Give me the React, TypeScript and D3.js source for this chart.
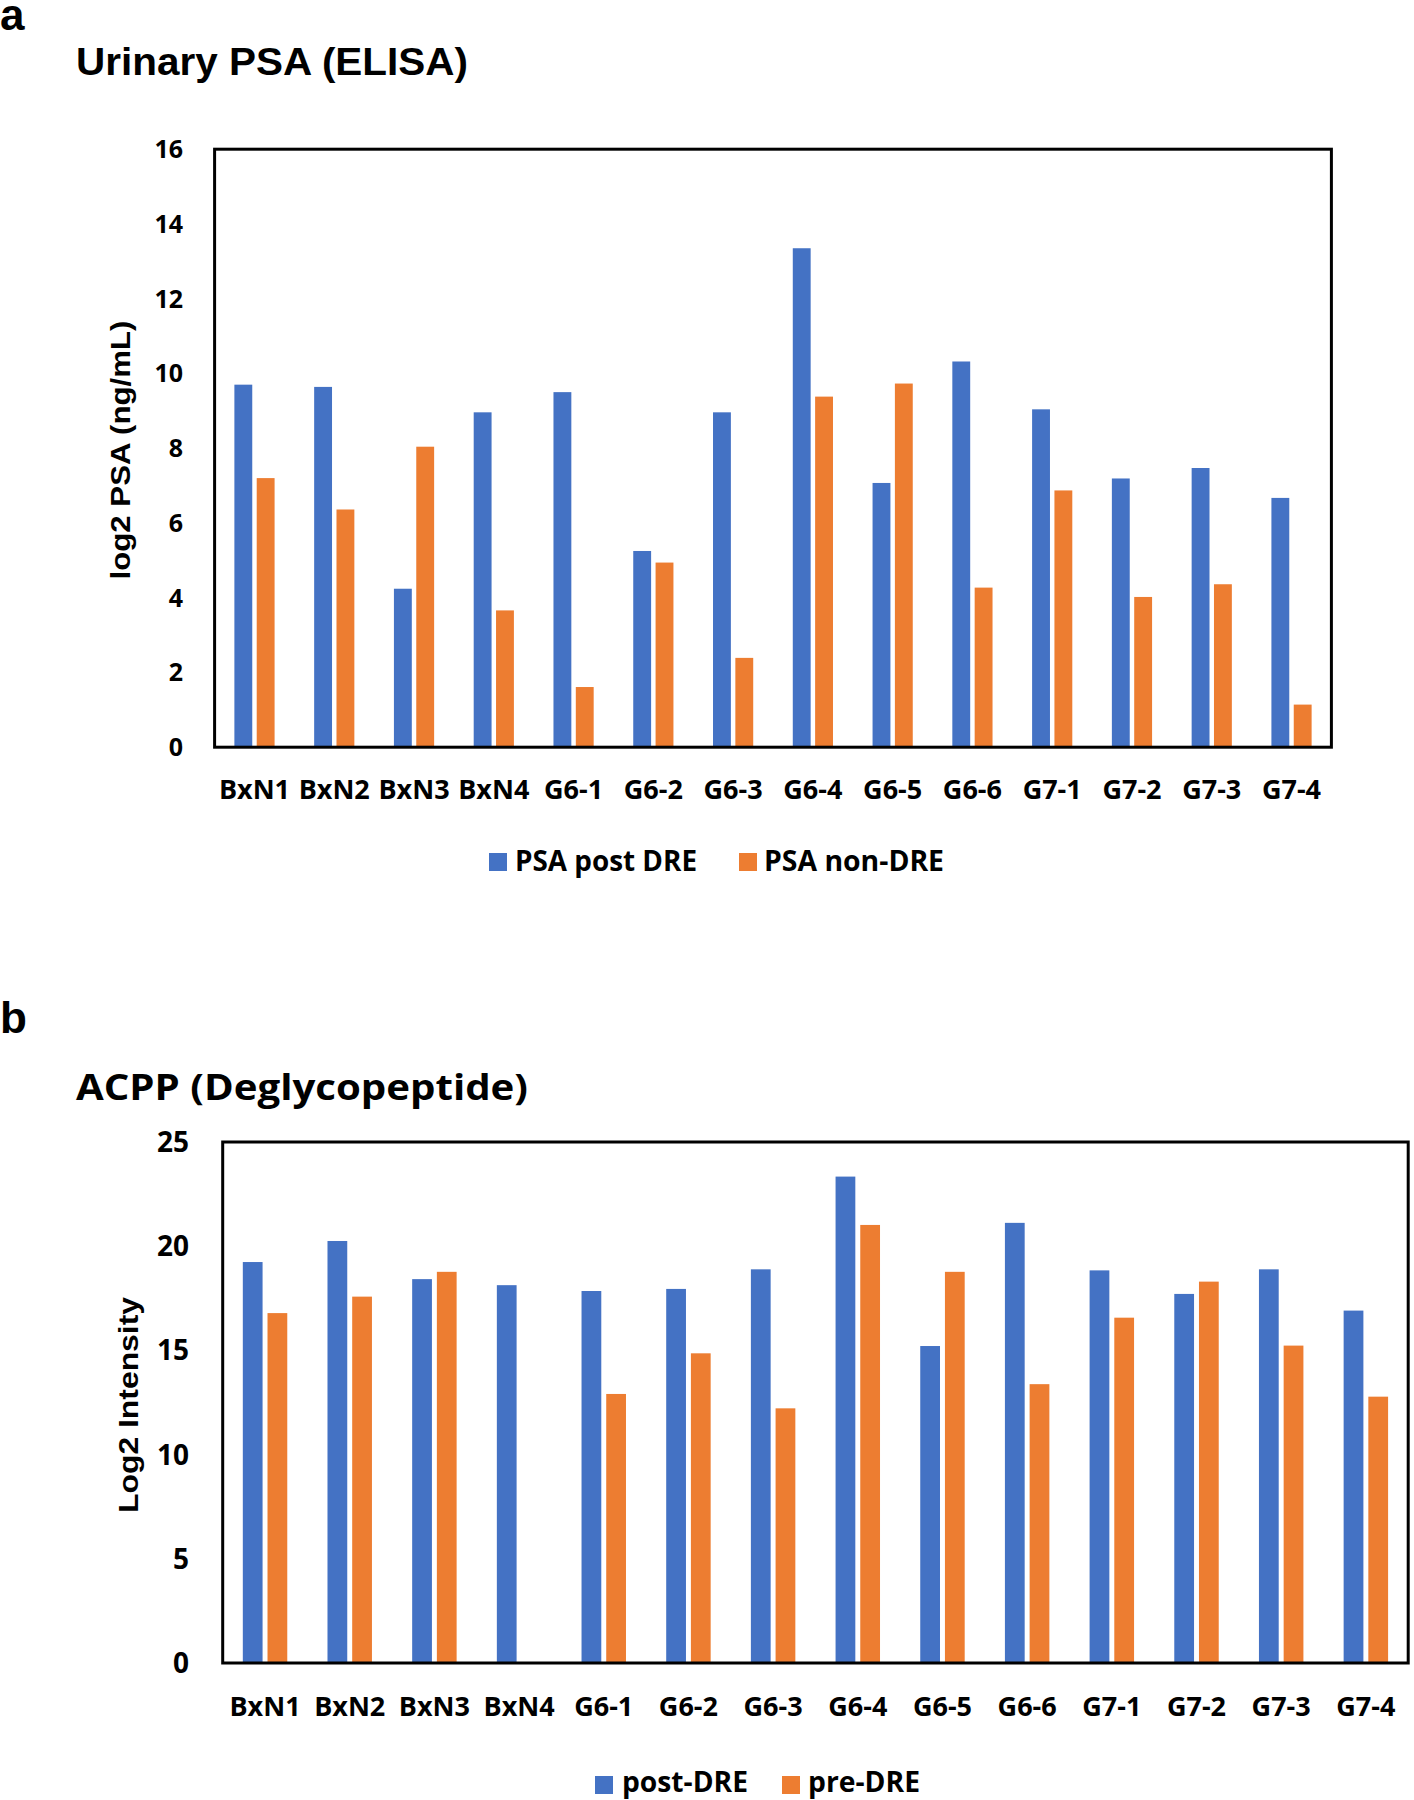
import React from "react";
import * as d3 from "d3";

const categories = ["BxN1", "BxN2", "BxN3", "BxN4", "G6-1", "G6-2", "G6-3", "G6-4", "G6-5", "G6-6", "G7-1", "G7-2", "G7-3", "G7-4"];

const psaPostDRE = [9.7, 9.64, 4.24, 8.96, 9.5, 5.25, 8.96, 13.35, 7.07, 10.32, 9.04, 7.19, 7.47, 6.67];
const psaNonDRE = [7.2, 6.36, 8.04, 3.66, 1.61, 4.94, 2.39, 9.38, 9.73, 4.27, 6.87, 4.02, 4.36, 1.14];

const acppPostDRE = [19.24, 20.25, 18.42, 18.13, 17.85, 17.95, 18.89, 23.34, 15.21, 21.12, 18.84, 17.71, 18.89, 16.91];
const acppPreDRE: (number | null)[] = [16.79, 17.58, 18.77, null, 12.91, 14.86, 12.22, 21.02, 18.77, 13.38, 16.57, 18.3, 15.23, 12.78];

const psaTicks = [0, 2, 4, 6, 8, 10, 12, 14, 16];
const acppTicks = [0, 5, 10, 15, 20, 25];

const BLUE = "#4472C4";
const ORANGE = "#ED7D31";
const FONT = "'Open Sans', 'DejaVu Sans', sans-serif";
const TITLEFONT = "'Liberation Sans', Arial, sans-serif";

type PanelProps = {
  left: number; right: number; top: number; bottom: number;
  yMax: number; ticks: number[];
  s1: (number | null)[]; s2: (number | null)[];
  padInner: number; labelRight: number; tickSize: number; xLabelY: number;
};

function Panel(p: PanelProps) {
  const x0 = d3.scaleBand<string>().domain(categories).range([p.left, p.right]).paddingInner(p.padInner).paddingOuter(p.padInner / 2);
  const x1 = d3.scaleBand<string>().domain(["a", "b"]).range([0, x0.bandwidth()]).paddingInner(0.2).paddingOuter(0);
  const y = d3.scaleLinear().domain([0, p.yMax]).range([p.bottom, p.top]);
  return (
    <g>
      {categories.map((c, i) => (
        <g key={c}>
          {p.s1[i] != null && (
            <rect x={x0(c)! + x1("a")!} width={x1.bandwidth()} y={y(p.s1[i] as number)} height={y(0) - y(p.s1[i] as number)} fill={BLUE} />
          )}
          {p.s2[i] != null && (
            <rect x={x0(c)! + x1("b")!} width={x1.bandwidth()} y={y(p.s2[i] as number)} height={y(0) - y(p.s2[i] as number)} fill={ORANGE} />
          )}
          <text x={x0(c)! + x0.bandwidth() / 2} y={p.xLabelY} textAnchor="middle" fontFamily={FONT} fontWeight="bold" fontSize={27}>{c}</text>
        </g>
      ))}
      {p.ticks.map((t) => (
        <text key={t} x={p.labelRight} y={y(t)} dy="0.36em" textAnchor="end" fontFamily={FONT} fontWeight="bold" fontSize={p.tickSize}>{t}</text>
      ))}
      <rect x={p.left} y={p.top} width={p.right - p.left} height={p.bottom - p.top} fill="none" stroke="#000" strokeWidth={3} />
    </g>
  );
}

export default function App() {
  return (
    <svg width={1414} height={1800} style={{ position: "absolute", left: 0, top: 0, background: "#fff" }}>
      <rect x={0} y={0} width={1414} height={1800} fill="#fff" />
      <text x={0} y={30} fontFamily={TITLEFONT} fontWeight="bold" fontSize={44}>a</text>
      <text x={76} y={75} fontFamily={TITLEFONT} fontWeight="bold" fontSize={38} textLength={392} lengthAdjust="spacingAndGlyphs">Urinary PSA (ELISA)</text>
      <text transform="translate(130,450) rotate(-90)" textAnchor="middle" fontFamily={TITLEFONT} fontWeight="bold" fontSize={27} textLength={259} lengthAdjust="spacingAndGlyphs">log2 PSA (ng/mL)</text>
      <Panel left={214.6} right={1331.4} top={149.2} bottom={747.2} yMax={16} ticks={psaTicks} s1={psaPostDRE} s2={psaNonDRE} padInner={0.496} labelRight={183} tickSize={25} xLabelY={799} />
      <rect x={489} y={853} width={18} height={18} fill={BLUE} />
      <text x={515} y={871} fontFamily={FONT} fontWeight="bold" fontSize={28} textLength={182} lengthAdjust="spacingAndGlyphs">PSA post DRE</text>
      <rect x={739} y={853} width={18} height={18} fill={ORANGE} />
      <text x={764} y={871} fontFamily={FONT} fontWeight="bold" fontSize={28} textLength={180} lengthAdjust="spacingAndGlyphs">PSA non-DRE</text>

      <text x={0} y={1033} fontFamily={TITLEFONT} fontWeight="bold" fontSize={44}>b</text>
      <text x={76} y={1100} fontFamily={FONT} fontWeight="bold" fontSize={35} textLength={452} lengthAdjust="spacingAndGlyphs">ACPP (Deglycopeptide)</text>
      <text transform="translate(138,1405) rotate(-90)" textAnchor="middle" fontFamily={TITLEFONT} fontWeight="bold" fontSize={27} textLength={216} lengthAdjust="spacingAndGlyphs">Log2 Intensity</text>
      <Panel left={222.7} right={1408.2} top={1142} bottom={1663} yMax={25} ticks={acppTicks} s1={acppPostDRE} s2={acppPreDRE} padInner={0.475} labelRight={189} tickSize={28} xLabelY={1716} />
      <rect x={595} y={1776} width={18} height={18} fill={BLUE} />
      <text x={622} y={1792} fontFamily={FONT} fontWeight="bold" fontSize={28} textLength={126} lengthAdjust="spacingAndGlyphs">post-DRE</text>
      <rect x={782} y={1776} width={18} height={18} fill={ORANGE} />
      <text x={808} y={1792} fontFamily={FONT} fontWeight="bold" fontSize={28} textLength={112} lengthAdjust="spacingAndGlyphs">pre-DRE</text>
    </svg>
  );
}
